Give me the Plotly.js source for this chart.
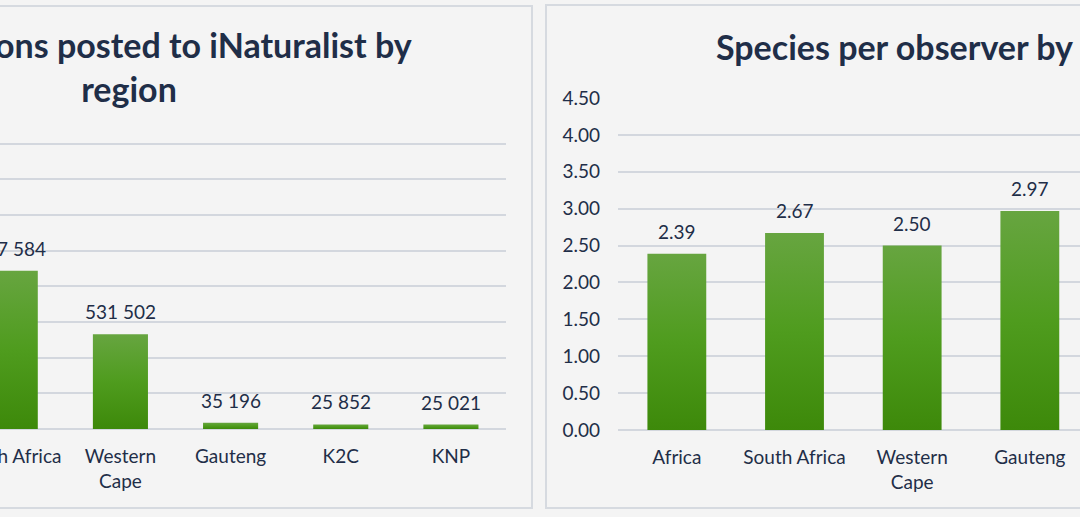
<!DOCTYPE html>
<html>
<head>
<meta charset="utf-8">
<script src="https://cdn.plot.ly/plotly-3.0.1.min.js"></script>
<style>
	html, body {
		margin: 0;
		padding: 0;
		width: 1080px;
		height: 517px;
		overflow: hidden;
		position: relative;
		background: #f4f4f4;
	}
	.panel {
		position: absolute;
		border: 2px solid #d6dae0;
		background: #f4f4f4;
	}
	/* left chart is cropped by the window edge, right one too */
	#obs_panel { left: -275px; top: 5px; width: 804px; height: 500px; }
	#spo_panel { left: 545px; top: 4px; width: 798px; height: 501px; }
</style>
</head>
<body>
<div class="panel" id="obs_panel"><div id="obs_plot"></div></div>
<div class="panel" id="spo_panel"><div id="spo_plot"></div></div>
<script>
// observations posted to iNaturalist, by region
const obsRegions = ['Africa', 'South Africa', 'Western<br>Cape', 'Gauteng', 'K2C', 'KNP'];
const obsCounts = [1452000, 887584, 531502, 35196, 25852, 25021];

// species per observer, by region
const spoRegions = ['Africa', 'South Africa', 'Western<br>Cape', 'Gauteng', 'K2C', 'KNP'];
const spoValues = [2.39, 2.67, 2.5, 2.97, 4.02, 3.64];

const textColor = '#1f2e48';
const gridColor = '#d3d7de';
const bgColor = '#f4f4f4';
const fontFamily = 'Lato, "Open Sans", sans-serif';

function spaced(n) {
	return String(n).replace(/\B(?=(\d{3})+(?!\d))/g, ' ');
}

function valueLabels(xs, ys, fmt) {
	return xs.map((x, i) => ({
		x: x,
		y: ys[i],
		text: fmt(ys[i]),
		showarrow: false,
		yanchor: 'bottom',
		yshift: 9,
		font: { family: fontFamily, size: 19, color: textColor },
	}));
}

function baseLayout(width, height, margin, titleText, titleY) {
	return {
		width,
		height,
		margin,
		autosize: false,
		paper_bgcolor: bgColor,
		plot_bgcolor: bgColor,
		separators: '. ',
		bargap: 0.5,
		showlegend: false,
		title: {
			text: titleText,
			x: 0.5,
			xanchor: 'center',
			y: titleY,
			yanchor: 'top',
			font: { family: fontFamily, size: 34, color: textColor, weight: 'bold' },
		},
		xaxis: {
			type: 'category',
			showgrid: false,
			showline: false,
			ticks: '',
			ticklabelstandoff: 14,
			tickfont: { family: fontFamily, size: 19, color: textColor },
		},
		yaxis: {
			showgrid: true,
			gridcolor: gridColor,
			gridwidth: 2,
			zeroline: true,
			zerolinecolor: gridColor,
			zerolinewidth: 2,
			showline: false,
			ticks: '',
			ticklabelstandoff: 17,
			tickfont: { family: fontFamily, size: 19, color: textColor },
		},
	};
}

function paintGradient(gd, id) {
	const ns = 'http://www.w3.org/2000/svg';
	const svg = gd.querySelector('svg.main-svg');
	let defs = svg.querySelector('defs');
	if (!defs) {
		defs = document.createElementNS(ns, 'defs');
		svg.insertBefore(defs, svg.firstChild);
	}
	const grad = document.createElementNS(ns, 'linearGradient');
	grad.setAttribute('id', id);
	grad.setAttribute('x1', '0');
	grad.setAttribute('y1', '0');
	grad.setAttribute('x2', '0');
	grad.setAttribute('y2', '1');
	[
		['0%', '#67a540'],
		['50%', '#4f9c1e'],
		['100%', '#3d890a'],
	].forEach(([offset, color]) => {
		const stop = document.createElementNS(ns, 'stop');
		stop.setAttribute('offset', offset);
		stop.setAttribute('stop-color', color);
		grad.appendChild(stop);
	});
	defs.appendChild(grad);
	gd.querySelectorAll('.bars .point path').forEach((p) => {
		p.style.fill = `url(#${id})`;
	});
}

const config = { staticPlot: true, displayModeBar: false };

// left chart
const obsLayout = baseLayout(
	804,
	500,
	{ l: 118, r: 25, t: 133, b: 78, pad: 0 },
	'Observations posted to iNaturalist by<br>region',
	0.898
);
obsLayout.yaxis.range = [0, 1620000];
obsLayout.yaxis.tick0 = 0;
obsLayout.yaxis.dtick = 200000;
obsLayout.annotations = valueLabels(obsRegions, obsCounts, spaced);

Plotly.newPlot(
	'obs_plot',
	[{ type: 'bar', x: obsRegions, y: obsCounts, marker: { color: '#4f9c1e' } }],
	obsLayout,
	config
).then((gd) => paintGradient(gd, 'obs_grad'));

// right chart
const spoLayout = baseLayout(
	798,
	501,
	{ l: 71, r: 21, t: 92, b: 77, pad: 0 },
	'Species per observer by region',
	0.94
);
spoLayout.yaxis.range = [0, 4.5];
spoLayout.yaxis.dtick = 0.5;
spoLayout.yaxis.tickformat = '.2f';
spoLayout.annotations = valueLabels(spoRegions, spoValues, (v) => v.toFixed(2));

Plotly.newPlot(
	'spo_plot',
	[{ type: 'bar', x: spoRegions, y: spoValues, marker: { color: '#4f9c1e' } }],
	spoLayout,
	config
).then((gd) => paintGradient(gd, 'spo_grad'));
</script>
</body>
</html>
